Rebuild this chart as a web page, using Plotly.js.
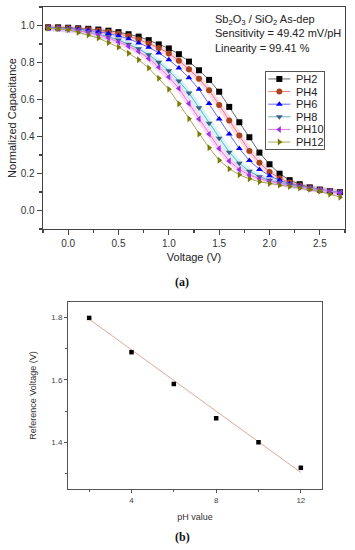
<!DOCTYPE html>
<html><head><meta charset="utf-8">
<script src="https://cdn.plot.ly/plotly-3.0.1.min.js"></script>
<style>html,body{margin:0;padding:0;background:#fff}#chart{width:355px;height:550px}</style>
</head><body><div id="chart"></div><script>
// ---- Panel (a): normalized C-V curves ----
const voltage = [-0.2,-0.1,0.0,0.1,0.2,0.3,0.4,0.5,0.6,0.7,0.8,0.9,1.0,1.1,1.2,1.3,1.4,1.5,1.6,1.7,1.8,1.9,2.0,2.1,2.2,2.3,2.4,2.5,2.6,2.7];
const seriesNames = ['PH2','PH4','PH6','PH8','PH10','PH12'];
const capPH2  = [0.990,0.990,0.988,0.985,0.982,0.978,0.972,0.964,0.953,0.940,0.921,0.898,0.876,0.845,0.805,0.758,0.706,0.642,0.560,0.477,0.396,0.313,0.250,0.199,0.164,0.142,0.125,0.113,0.104,0.099];
const capPH4  = [0.990,0.988,0.986,0.983,0.979,0.973,0.966,0.955,0.943,0.925,0.903,0.879,0.849,0.810,0.764,0.712,0.650,0.570,0.486,0.405,0.322,0.258,0.208,0.175,0.151,0.135,0.122,0.112,0.104,0.098];
const capPH6  = [0.989,0.987,0.984,0.980,0.974,0.966,0.957,0.944,0.928,0.906,0.882,0.852,0.815,0.770,0.718,0.655,0.578,0.495,0.413,0.335,0.270,0.222,0.188,0.163,0.145,0.132,0.121,0.112,0.104,0.098];
const capPH8  = [0.987,0.984,0.980,0.974,0.965,0.953,0.940,0.921,0.899,0.874,0.842,0.802,0.755,0.700,0.635,0.555,0.472,0.390,0.315,0.255,0.212,0.183,0.163,0.150,0.139,0.129,0.120,0.112,0.104,0.098];
const capPH10 = [0.986,0.983,0.979,0.972,0.962,0.950,0.933,0.911,0.888,0.860,0.822,0.775,0.722,0.660,0.578,0.495,0.413,0.335,0.268,0.222,0.192,0.172,0.158,0.146,0.136,0.127,0.119,0.111,0.103,0.095];
const capPH12 = [0.985,0.982,0.977,0.962,0.948,0.932,0.907,0.883,0.850,0.815,0.770,0.715,0.655,0.577,0.496,0.413,0.339,0.272,0.225,0.193,0.171,0.155,0.146,0.137,0.130,0.122,0.114,0.104,0.088,0.072];
const capSeries = [capPH2, capPH4, capPH6, capPH8, capPH10, capPH12];

// ---- Panel (b): reference voltage vs pH ----
const phValues = [2,4,6,8,10,12];
const refVoltage = [1.799,1.689,1.587,1.477,1.400,1.318];
const fitPH = [2,12];
const fitVoltage = [1.795,1.303];

// ---- styles ----
const markerColors = ['#000000','#a8441c','#0000f0','#3d5f80','#9a32e6','#7a7a00'];
const lineColors   = ['#666666','#ee7a7a','#6a6aff','#6fb0c0','#e67ae6','#a8a860'];
const glowColors   = ['rgba(0,0,0,0)','rgba(255,150,190,0.35)','rgba(0,0,0,0)','rgba(120,230,240,0.35)','rgba(255,150,230,0.35)','rgba(0,0,0,0)'];
const symbols = ['square','circle','triangle-up','triangle-down','triangle-left','triangle-right'];

const FONT = 'Liberation Sans, Arial, sans-serif';
const W = 355, H = 550;
const px = v => v / W, py = v => 1 - v / H;

const traces = [];
capSeries.forEach((ys, i) => {
  traces.push({x: voltage, y: ys, xaxis:'x', yaxis:'y', mode:'lines', showlegend:false, hoverinfo:'skip',
    line:{color: glowColors[i], width: 6}});
});
capSeries.forEach((ys, i) => {
  traces.push({x: voltage, y: ys, xaxis:'x', yaxis:'y', mode:'lines+markers', name: seriesNames[i], showlegend:false,
    line:{color: lineColors[i], width: 1},
    marker:{symbol: symbols[i], color: markerColors[i], size: 6, line:{width:0}}});
});
// custom legend drawn on its own small axis, one row per series
const legendLabels = [];
seriesNames.forEach((nm, i) => {
  traces.push({x:[0.04,0.42], y:[i,i], xaxis:'x3', yaxis:'y3', mode:'lines', showlegend:false, hoverinfo:'skip',
    line:{color: lineColors[i], width:1}});
  traces.push({x:[0.23], y:[i], xaxis:'x3', yaxis:'y3', mode:'markers', showlegend:false, hoverinfo:'skip',
    marker:{symbol: symbols[i], color: markerColors[i], size: 6, line:{width:0}}});
  legendLabels.push({xref:'x3', yref:'y3', x:0.48, y:i, xanchor:'left', yanchor:'middle', showarrow:false,
    text: nm, font:{family:FONT, size:11, color:'#222'}});
});
// panel (b)
traces.push({x: fitPH, y: fitVoltage, xaxis:'x2', yaxis:'y2', mode:'lines', showlegend:false,
  line:{color:'#e0a898', width:1}});
traces.push({x: phValues, y: refVoltage, xaxis:'x2', yaxis:'y2', mode:'markers', showlegend:false,
  marker:{symbol:'square', color:'#000', size:4.5}});

const axA = {showline:true, mirror:true, linecolor:'#444', linewidth:1.3, showgrid:false, zeroline:false,
  ticks:'outside', ticklen:5, tickwidth:1.2, tickcolor:'#444', automargin:false,
  tickfont:{family:FONT, size:10, color:'#333'}};
const axB = {showline:true, mirror:true, linecolor:'#555', linewidth:1, showgrid:false, zeroline:false,
  ticks:'outside', ticklen:3, tickwidth:1, tickcolor:'#555', automargin:false,
  tickfont:{family:FONT, size:8, color:'#444'}};

const layout = {
  width: W, height: H, margin:{l:0,r:0,t:0,b:0}, paper_bgcolor:'#fff', plot_bgcolor:'#fff',
  font:{family:FONT}, showlegend:false,
  xaxis: Object.assign({}, axA, {domain:[px(43), px(345)], range:[-0.25, 2.75], dtick:0.5, tick0:0,
    tickformat:'.1f', minor:{dtick:0.25, ticks:'outside', ticklen:3, tickcolor:'#444'}, anchor:'y',
    title:{text:'Voltage (V)', font:{family:FONT, size:11, color:'#222'}, standoff:5}}),
  yaxis: Object.assign({}, axA, {domain:[py(229), py(7)], range:[-0.1, 1.1], dtick:0.2, tick0:0,
    tickformat:'.1f', minor:{dtick:0.1, ticks:'outside', ticklen:3, tickcolor:'#444'}, anchor:'x',
    title:{text:'Normalized Capacitance', font:{family:FONT, size:11, color:'#222'}, standoff:2}}),
  xaxis2: Object.assign({}, axB, {domain:[px(68), px(322)], range:[1, 13], dtick:4, tick0:0,
    minor:{dtick:2, ticks:'outside', ticklen:2, tickcolor:'#555'}, anchor:'y2',
    title:{text:'pH value', font:{family:FONT, size:9, color:'#333'}, standoff:10}}),
  yaxis2: Object.assign({}, axB, {domain:[py(489), py(302)], range:[1.25, 1.85], dtick:0.2, tick0:0,
    tickformat:'.1f', minor:{dtick:0.1, ticks:'outside', ticklen:2, tickcolor:'#555'}, anchor:'x2',
    title:{text:'Reference Voltage (V)', font:{family:FONT, size:9, color:'#333'}, standoff:13}}),
  xaxis3: {domain:[px(266), px(324)], range:[0,1], showline:true, mirror:true, linecolor:'#555', linewidth:1,
    showgrid:false, zeroline:false, showticklabels:false, ticks:'', fixedrange:true, anchor:'y3', automargin:false},
  yaxis3: {domain:[py(149), py(72)], range:[5.55,-0.55], showline:true, mirror:true, linecolor:'#555', linewidth:1,
    showgrid:false, zeroline:false, showticklabels:false, ticks:'', fixedrange:true, anchor:'x3', automargin:false},
  annotations: [
    {xref:'paper', yref:'paper', x:px(213), y:py(11), xanchor:'left', yanchor:'top', align:'left', showarrow:false,
     text:'Sb<sub>2</sub>O<sub>3</sub> / SiO<sub>2</sub> As-dep<br>Sensitivity = 49.42 mV/pH<br>Linearity = 99.41 %',
     font:{family:FONT, size:11, color:'#222'}},
    {xref:'paper', yref:'paper', x:px(182), y:py(282), xanchor:'center', yanchor:'middle', showarrow:false,
     text:'<b>(a)</b>', font:{family:'Liberation Serif, Times New Roman, serif', size:12, color:'#111'}},
    {xref:'paper', yref:'paper', x:px(182), y:py(537), xanchor:'center', yanchor:'middle', showarrow:false,
     text:'<b>(b)</b>', font:{family:'Liberation Serif, Times New Roman, serif', size:12, color:'#111'}}
  ].concat(legendLabels)
};

Plotly.newPlot('chart', traces, layout, {staticPlot:true, displayModeBar:false});
</script></body></html>
